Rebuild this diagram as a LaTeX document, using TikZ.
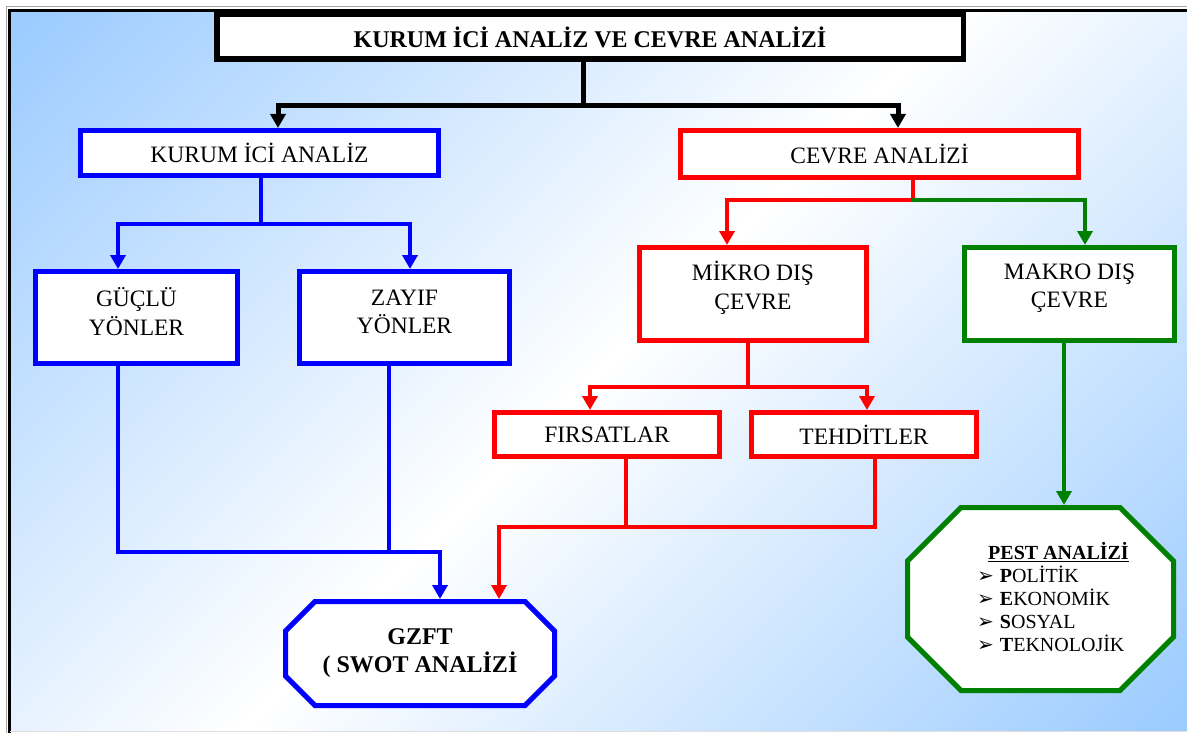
\documentclass[tikz,border=0pt]{standalone}
\usepackage{fontspec}
\setmainfont{Liberation Serif}
\newfontfamily\dejavu{DejaVu Sans}
\usetikzlibrary{arrows.meta,calc}
\definecolor{bgb}{RGB}{155,203,255}
\definecolor{dgreen}{RGB}{0,128,0}
\pgfdeclareverticalshading{bgsh}{100bp}{color(0bp)=(bgb); color(15bp)=(bgb); color(50bp)=(white); color(85bp)=(bgb); color(100bp)=(bgb)}
\pgfdeclarelayer{bg}
\pgfsetlayers{bg,main}
\newcommand\octpath[2]{($(#1.north west)+(#2,2.5)$) -- ($(#1.north east)+(-#2,2.5)$) -- ($(#1.north east)+(-2.5,#2)$) -- ($(#1.south east)+(-2.5,-#2)$) -- ($(#1.south east)+(-#2,-2.5)$) -- ($(#1.south west)+(#2,-2.5)$) -- ($(#1.south west)+(2.5,-#2)$) -- ($(#1.north west)+(2.5,#2)$) -- cycle}
\newcommand\dpA{\rule[-12pt]{0pt}{12pt}}
\newcommand\dpB{\rule[-17pt]{0pt}{17pt}}
\newcommand\bul{{\dejavu\fontsize{20}{23}\selectfont ➢}\hspace{6pt}}
\begin{document}
\begin{tikzpicture}[x=1pt,y=-1pt,
  box/.style={draw, fill=white, line width=5pt, rectangle, inner sep=0pt, align=center, font=\fontsize{23.5}{28.5}\selectfont},
  octbase/.style={rectangle, inner sep=0pt, outer sep=0pt, align=center},
  conn/.style={line width=4pt},
  tip/.style={-{Triangle[width=15pt,length=14pt]}},
]
\useasboundingbox (0,0) rectangle (1187,733);
\begin{pgfonlayer}{bg}
\fill[white] (0,0) rectangle (1187,733);
\shade[shading=bgsh, shading angle=45] (10,11) rectangle (1190,731);
\draw[gray!70, line width=1pt] (1195,7) -- (6.5,7) -- (6.5,740);
\draw[black, line width=3pt] (1195,10.5) -- (9.5,10.5) -- (9.5,740);
\draw[gray!25, line width=1pt] (10,731.5) -- (1190,731.5);
\end{pgfonlayer}

% nodes
\node[box, line width=5.5pt, minimum width=746.5pt, minimum height=44.5pt, font=\bfseries\fontsize{24}{28}\selectfont] (title) at (590,37) {KURUM İCİ ANALİZ VE CEVRE ANALİZİ};
\node[box, draw=blue, minimum width=358pt, minimum height=45pt] (kurum) at (259.5,153) {KURUM İCİ ANALİZ};
\node[box, draw=red, minimum width=398pt, minimum height=47pt] (cevre) at (879.5,154) {CEVRE ANALİZİ};
\node[box, draw=blue, minimum width=202pt, minimum height=92pt] (guclu) at (136.5,317.5) {GÜÇLÜ\\YÖNLER\dpA};
\node[box, draw=blue, minimum width=210pt, minimum height=92pt] (zayif) at (404.5,317.5) {ZAYIF\\YÖNLER\dpA};
\node[box, draw=red, minimum width=227pt, minimum height=93pt] (mikro) at (753,294) {MİKRO DIŞ\\ÇEVRE\dpB};
\node[box, draw=dgreen, minimum width=210pt, minimum height=93pt] (makro) at (1069.5,294) {MAKRO DIŞ\\ÇEVRE\dpB};
\node[box, draw=red, minimum width=225pt, minimum height=44pt] (firsat) at (607,434.5) {FIRSATLAR};
\node[box, draw=red, minimum width=225pt, minimum height=44pt] (tehdit) at (864,434.5) {TEHDİTLER};
\node[octbase, minimum width=274pt, minimum height=109pt, font=\bfseries\fontsize{24}{28}\selectfont] (gzft) at (420,653.5) {GZFT\\( SWOT ANALİZİ};
\node[octbase, minimum width=271pt, minimum height=188pt] (pest) at (1040.5,599) {};
\node[anchor=north west, inner sep=0pt, align=left, font=\fontsize{20}{23}\selectfont] (pesttext) at (977,542)
  {\hspace*{11pt}\underline{\textbf{PEST ANALİZİ}}\\
   \bul\textbf{P}OLİTİK\\
   \bul\textbf{E}KONOMİK\\
   \bul\textbf{S}OSYAL\\
   \bul\textbf{T}EKNOLOJİK};

\begin{pgfonlayer}{bg}
\draw[line width=5pt, blue, fill=white] \octpath{gzft}{32};
\draw[line width=5pt, dgreen, fill=white] \octpath{pest}{56};
\end{pgfonlayer}

% junction coordinates
\coordinate (t0) at (583,106);
\coordinate (tl) at (278,106);
\coordinate (tr) at (898,106);
\coordinate (k0) at (261,224);
\coordinate (kl) at (118,224);
\coordinate (kr) at (410,224);
\coordinate (bl) at (118,552);
\coordinate (bm) at (389,552);
\coordinate (br) at (440,552);
\coordinate (c0) at (913,200);
\coordinate (cg) at (911,200);
\coordinate (cl) at (727,200);
\coordinate (cr) at (1085,200);
\coordinate (m0) at (748,387);
\coordinate (ml) at (590,387);
\coordinate (mr) at (867,387);
\coordinate (f0) at (626,527);
\coordinate (f1) at (875,527);
\coordinate (g0) at (499,527);
\coordinate (p0) at (1064,420);

% black connectors
\draw[conn, line width=5pt] (title.south -| t0) -- (t0);
\draw[conn, line width=5pt, tip] (t0) -- (tl) -- (tl |- kurum.north);
\draw[conn, line width=5pt, tip] (t0) -- (tr) -- (tr |- cevre.north);

% blue connectors
\draw[conn, blue] (kurum.south -| k0) -- (k0);
\draw[conn, blue, tip] (k0) -- (kl) -- (kl |- guclu.north);
\draw[conn, blue, tip] (k0) -- (kr) -- (kr |- zayif.north);
\draw[conn, blue, tip] (guclu.south -| bl) -- (bl) -- (br) -- (br |- gzft.north);
\draw[conn, blue] (zayif.south -| bm) -- (bm);

% red / green connectors from cevre
\draw[conn, red, tip] (cevre.south -| c0) -- (c0) -- (cl) -- (cl |- mikro.north);
\draw[conn, dgreen, tip] (cg) -- (cr) -- (cr |- makro.north);

% red connectors from mikro
\draw[conn, red] (mikro.south -| m0) -- (m0);
\draw[conn, red, tip] (m0) -- (ml) -- (ml |- firsat.north);
\draw[conn, red, tip] (m0) -- (mr) -- (mr |- tehdit.north);
\draw[conn, red, tip] (firsat.south -| f0) -- (f0) -- (g0) -- (g0 |- gzft.north);
\draw[conn, red] (tehdit.south -| f1) -- (f1) -- (f0);

% green connector to pest
\draw[conn, dgreen, tip] (makro.south -| p0) -- (p0 |- pest.north);
\end{tikzpicture}
\end{document}
